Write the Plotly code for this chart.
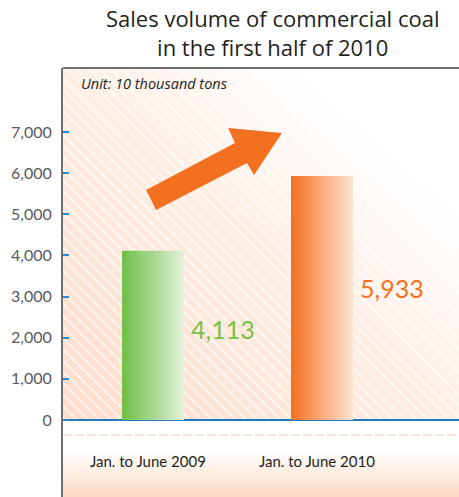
import base64
import plotly.graph_objects as go

# Sales volume of commercial coal, unit: 10 thousand tons
categories = ["Jan. to June 2009", "Jan. to June 2010"]
values = [4113, 5933]
y_ticks = [0, 1000, 2000, 3000, 4000, 5000, 6000, 7000]

bar_dark = ["#6dbe45", "#f37021"]
bar_light = ["#e3f1da", "#fde4d2"]
label_colors = ["#7ac143", "#f37021"]

BAR_W = 0.367
Y_RANGE = [-1872, 8556]
X_RANGE = [-0.533, 1.811]

fig = go.Figure()

# Bars with a horizontal colour fade, drawn as filled outlines from the values
for i, (cat, v) in enumerate(zip(categories, values)):
    x0, x1 = i - BAR_W / 2, i + BAR_W / 2
    fig.add_trace(go.Scatter(
        x=[x0, x1, x1, x0, x0],
        y=[0, 0, v, v, 0],
        mode="lines",
        fill="toself",
        line=dict(width=0),
        fillgradient=dict(type="horizontal",
                          colorscale=[[0, bar_dark[i]], [1, bar_light[i]]]),
        name=cat,
        hoverinfo="skip",
        showlegend=False,
    ))
    fig.add_annotation(
        x=x1 + 0.03, y=v * 0.54, xref="x", yref="y",
        text=f"{v:,}", showarrow=False, xanchor="left", yanchor="middle",
        font=dict(family="Lato", size=25, color=label_colors[i]),
    )
    fig.add_annotation(
        x=i - 0.03, y=-1000, xref="x", yref="y",
        text=cat, showarrow=False, xanchor="center", yanchor="middle",
        font=dict(family="Lato", size=15, color="#231f20"),
    )

# Background: peach fade with white diagonal hatching, lower band below the axis
svg = """<svg xmlns="http://www.w3.org/2000/svg" width="396" height="429" viewBox="0 0 396 429" preserveAspectRatio="none">
<defs>
<linearGradient id="g" x1="0" y1="1" x2="1" y2="0">
<stop offset="0" stop-color="#fddcc9"/>
<stop offset="0.5" stop-color="#fdeee4"/>
<stop offset="0.8" stop-color="#ffffff"/>
<stop offset="1" stop-color="#ffffff"/>
</linearGradient>
<pattern id="s" width="8" height="8" patternUnits="userSpaceOnUse" patternTransform="rotate(-45)">
<line x1="1" y1="0" x2="1" y2="8" stroke="#ffffff" stroke-width="1.4" stroke-opacity="0.9"/>
</pattern>
<linearGradient id="b" x1="0" y1="0" x2="0" y2="1">
<stop offset="0" stop-color="#ffffff"/>
<stop offset="0.4" stop-color="#ffffff"/>
<stop offset="1" stop-color="#fcd9c3"/>
</linearGradient>
</defs>
<rect x="0" y="0" width="396" height="352" fill="url(#g)"/>
<rect x="0" y="0" width="396" height="352" fill="url(#s)"/>
<rect x="0" y="352" width="396" height="77" fill="url(#b)"/>
<line x1="0" y1="367" x2="396" y2="367" stroke="#fcdcc6" stroke-width="1.5" stroke-dasharray="9 3"/>
</svg>"""
src = "data:image/svg+xml;base64," + base64.b64encode(svg.encode()).decode()
fig.add_layout_image(dict(source=src, xref="paper", yref="paper", x=0, y=1,
                          sizex=1, sizey=1, sizing="stretch",
                          xanchor="left", yanchor="top", layer="below"))

# Upward trend arrow
arrow = [(-0.041, 5591), (0.485, 6733), (0.444, 7098), (0.763, 6976),
         (0.598, 5955), (0.556, 6247), (0.018, 5104)]
path = "M " + " L ".join(f"{x},{y}" for x, y in arrow) + " Z"
fig.add_shape(type="path", path=path, xref="x", yref="y",
              fillcolor="#f37021", line=dict(width=0), layer="above")

# Top frame edge
fig.add_shape(type="line", xref="paper", yref="paper", x0=0, x1=1, y0=1, y1=1,
              line=dict(color="#6d6e71", width=2))

fig.add_annotation(
    x=0.53, y=1 + 35 / 429, xref="paper", yref="paper",
    text="Sales volume of commercial coal<br>in the first half of 2010",
    showarrow=False, xanchor="center", yanchor="middle", align="center",
    font=dict(family="Open Sans", size=22, color="#231f20"),
)
fig.add_annotation(
    x=16 / 396, y=1 - 15 / 429, xref="paper", yref="paper",
    text="<i>Unit: 10 thousand tons</i>", showarrow=False,
    xanchor="left", yanchor="middle",
    font=dict(family="Open Sans", size=14.5, color="#231f20"),
)

fig.update_xaxes(range=X_RANGE, showgrid=False, zeroline=False,
                 showticklabels=False, ticks="", showline=False, fixedrange=True)
fig.update_yaxes(
    range=Y_RANGE, showgrid=False,
    tickvals=y_ticks, ticktext=[f"{t:,}" for t in y_ticks],
    ticks="inside", ticklen=6, tickwidth=2, tickcolor="#2b8ad0",
    ticklabelstandoff=6,
    tickfont=dict(family="Lato", size=16, color="#58595b"),
    showline=True, linecolor="#6d6e71", linewidth=2,
    zeroline=True, zerolinecolor="#1f7bc1", zerolinewidth=2,
    fixedrange=True,
)

fig.update_layout(
    width=459, height=497,
    margin=dict(l=63, r=0, t=68, b=0),
    paper_bgcolor="#ffffff", plot_bgcolor="rgba(0,0,0,0)",
    showlegend=False,
)

fig.write_html("out.html", config={"displayModeBar": False})
